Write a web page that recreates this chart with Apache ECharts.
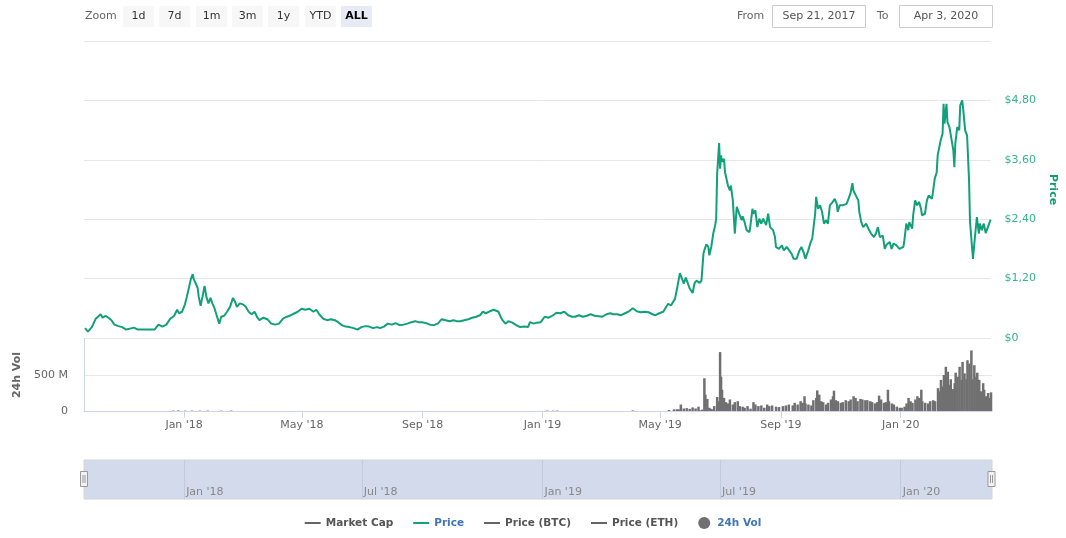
<!DOCTYPE html>
<html><head><meta charset="utf-8">
<script src="https://cdn.jsdelivr.net/npm/echarts@6/dist/echarts.min.js"></script>
<style>html,body{margin:0;padding:0;background:#fff}#c{width:1066px;height:538px}</style>
</head><body><div id="c"></div>
<script>
// ---- data ----
const startDate = '2017-09-21';
const endDate = '2020-04-03';
// days since startDate
const priceDays = [1,4,8,12,14,17,19,22,25,28,31,35,39,43,47,51,55,60,66,72,76,80,84,88,92,95,97,100,103,105,107,109,111,112,114,116,117,119,121,123,125,127,129,131,133,135,137,138,140,143,146,149,152,154,156,159,162,165,168,171,174,177,179,183,187,191,195,199,203,207,211,215,218,222,226,230,234,237,240,244,248,252,256,260,263,267,271,275,279,283,287,291,295,299,302,306,310,314,318,322,326,330,334,338,341,345,349,353,357,361,365,369,373,377,380,384,388,392,396,400,404,407,410,414,418,420,423,425,427,430,433,437,441,445,449,453,455,459,462,466,470,474,478,482,486,490,494,498,501,505,509,513,517,521,525,529,533,537,540,544,548,552,556,560,564,568,572,576,580,583,587,591,
593,596,599,603,605,608,609,612,614,616,618,620,621,623,625,628,630,632,633,635,637,638,640,642,644,645,646,648,649,650,651,653,654,655,657,659,660,662,664,666,667,669,671,672,674,676,679,680,682,683,685,687,689,691,693,696,698,700,703,705,706,709,712,714,717,719,722,724,727,730,732,734,736,739,741,743,746,747,749,751,753,755,757,759,761,764,766,768,769,771,774,778,780,782,784,785,787,790,791,793,795,798,801,803,806,808,810,812,815,817,819,822,824,826,829,832,836,837,839,841,842,845,846,848,850,852,854,855,858,860,862,865,866,868,870,871,872,874,876,877,878,880,881,883,885,887,888,889,891,893,894,896,897,899,901,903,904,905,907,909,910,911,913,914,916,918,920,922,925];
const prices = [.20,.13,.22,.39,.43,.48,.41,.45,.41,.36,.27,.24,.22,.17,.19,.21,.17,.17,.17,.17,.27,.23,.27,.39,.45,.57,.50,.53,.68,.84,1.01,1.19,1.29,1.19,1.22,1.01,.84,.65,.84,1.05,.82,.70,.81,.70,.61,.48,.50,.29,.43,.45,.53,.63,.81,.74,.63,.70,.68,.63,.53,.48,.53,.41,.36,.41,.38,.29,.27,.29,.39,.43,.46,.50,.53,.59,.57,.59,.53,.57,.48,.39,.36,.38,.36,.31,.26,.23,.22,.20,.17,.22,.24,.23,.20,.22,.20,.23,.29,.27,.30,.26,.27,.29,.32,.34,.32,.32,.30,.27,.26,.29,.38,.36,.34,.36,.34,.34,.36,.38,.41,.43,.46,.53,.50,.54,.57,.61,.53,.43,.36,.29,.34,.31,.26,.22,.23,.22,.32,.29,.31,.32,.43,.41,.45,.51,.50,.53,.46,.43,.43,.46,.43,.45,.48,.45,.44,.43,.48,.50,.48,.48,.46,.50,.54,.60,.54,.52,.53,.52,.48,.46,.50,.53,
.56,.69,.66,.79,.99,1.31,1.27,1.10,1.22,1.20,1.00,.98,.91,1.11,1.16,1.11,1.16,1.70,1.78,1.89,1.84,1.67,1.84,2.11,2.28,2.41,3.32,3.94,3.42,3.69,3.56,3.62,3.35,3.39,3.08,2.98,3.08,2.78,2.11,2.65,2.61,2.48,2.38,2.46,2.34,2.18,2.14,2.28,2.61,2.51,2.58,2.24,2.41,2.31,2.41,2.28,2.51,2.24,2.18,2.04,1.84,1.80,1.87,1.77,1.84,1.80,1.70,1.60,1.60,1.77,1.84,1.74,1.60,1.77,1.91,2.01,2.51,2.85,2.61,2.68,2.55,2.31,2.38,2.31,2.68,2.75,2.81,2.71,2.55,2.68,2.68,2.71,2.81,2.92,3.13,2.98,2.95,2.78,2.55,2.34,2.24,2.31,2.18,2.11,2.04,2.11,2.24,2.04,2.07,1.80,1.89,1.94,1.80,1.91,1.87,1.80,1.84,1.97,2.31,2.18,2.34,2.21,2.48,2.78,2.68,2.75,2.61,2.48,2.51,2.78,2.88,2.81,2.92,3.22,3.35,3.69,3.66,3.99,4.13,4.73,4.33,4.73,4.36,4.26,4.23,3.79,3.45,3.93,4.26,4.20,4.70,4.80,4.63,4.20,4.09,3.19,2.34,2.31,1.60,2.04,2.07,2.44,2.11,2.31,2.18,2.31,2.12,2.14,2.39];
const volDays = [91,96,103,110,118,126,140,150,472,478,482,559,596,601,604,606,608,611,614,617,620,623,626,628,630,632,633,635,637,638,640,642,645,646,648,649,650,652,654,656,658,661,663,666,668,671,673,676,679,682,684,687,690,693,696,698,701,705,708,712,715,718,722,724,727,730,732,734,735,738,741,743,746,747,749,751,753,756,758,761,763,764,766,768,771,773,776,779,781,784,786,788,791,793,796,798,801,803,806,808,810,812,815,817,819,820,823,825,828,831,833,836,838,840,842,844,847,849,851,853,854,857,860,862,865,867,870,871,873,875,876,878,880,882,883,885,887,888,890,892,894,895,897,899,900,902,904,905,907,909,910,912,914,916,917,919,921,922,924];
const volumesM = [6,8,5,6,5,6,5,6,6,5,6,8,14,23,25,22,90,35,40,30,50,35,60,10,20,455,227,168,45,32,25,68,195,136,818,477,295,182,123,105,160,90,123,136,68,60,45,68,32,123,90,68,77,45,90,68,77,60,55,68,77,90,77,114,90,136,114,205,105,90,77,150,182,286,227,136,123,90,114,160,205,282,150,136,114,123,150,136,160,205,182,136,168,160,150,150,136,123,105,123,214,160,114,123,295,136,105,90,60,45,45,60,105,182,136,114,160,205,182,295,136,114,105,136,150,136,318,273,432,341,500,614,545,364,441,305,386,532,477,614,432,682,523,441,705,659,841,441,636,477,532,432,273,386,295,205,250,182,259];
const axisTickDates = ['2018-01-01','2018-05-01','2018-09-01','2019-01-01','2019-05-01','2019-09-01','2020-01-01'];
const navTickDates = ['2018-01-01','2018-07-01','2019-01-01','2019-07-01','2020-01-01'];
const zoomButtons = ['1d','7d','1m','3m','1y','YTD','ALL'];
const fromLabel = 'Sep 21, 2017';
const toLabel = 'Apr 3, 2020';
const legendNames = ['Market Cap','Price','Price (BTC)','Price (ETH)','24h Vol'];

// ---- build ----
const DAY = 86400000;
const t0 = new Date(startDate).getTime();
const t1 = new Date(endDate).getTime();
const priceData = priceDays.map((d,i)=>[t0 + d*DAY, prices[i]]);
const volData = volDays.map((d,i)=>[t0 + d*DAY, volumesM[i]]);
const tickVals = axisTickDates.map(s=>new Date(s).getTime());
const navVals = navTickDates.map(s=>new Date(s).getTime());
const MONTHS = ['Jan','Feb','Mar','Apr','May','Jun','Jul','Aug','Sep','Oct','Nov','Dec'];
const fmtDate = v => { const d = new Date(v); return MONTHS[d.getUTCMonth()] + " '" + String(d.getUTCFullYear()).slice(2); };
const FONT = 'DejaVu Sans';
const GREEN = '#12a079';
const BLUE = '#3e74b8';
const linePath = 'path://M0,0 L16,0 L16,2 L0,2 Z';

const graphics = [];
graphics.push({type:'text', x:85, y:16.5, style:{text:'Zoom', fill:'#666', font:'11px "DejaVu Sans"', verticalAlign:'middle'}});
zoomButtons.forEach((b,i)=>{
  const x = Math.round(123 + i*36.3);
  const sel = b === 'ALL';
  graphics.push({type:'rect', shape:{x:x, y:6, width:31, height:21}, style:{fill: sel ? '#e6ebf5' : '#f7f7f7'}});
  graphics.push({type:'text', x:x+15.5, y:16.5, style:{text:b, fill: sel ? '#000' : '#333', font:(sel?'bold ':'')+'11px "DejaVu Sans"', align:'center', verticalAlign:'middle'}});
});
graphics.push({type:'text', x:737, y:16.5, style:{text:'From', fill:'#666', font:'11px "DejaVu Sans"', verticalAlign:'middle'}});
graphics.push({type:'rect', shape:{x:772.5, y:5.5, width:93, height:22}, style:{fill:'#fff', stroke:'#cccccc', lineWidth:1}});
graphics.push({type:'text', x:819, y:16.5, style:{text:fromLabel, fill:'#555', font:'11px "DejaVu Sans"', align:'center', verticalAlign:'middle'}});
graphics.push({type:'text', x:877, y:16.5, style:{text:'To', fill:'#666', font:'11px "DejaVu Sans"', verticalAlign:'middle'}});
graphics.push({type:'rect', shape:{x:899.5, y:5.5, width:93, height:22}, style:{fill:'#fff', stroke:'#cccccc', lineWidth:1}});
graphics.push({type:'text', x:946, y:16.5, style:{text:toLabel, fill:'#555', font:'11px "DejaVu Sans"', align:'center', verticalAlign:'middle'}});
[84, 991.5].forEach(cx=>{
  graphics.push({type:'rect', z:100, shape:{x:cx-3.5, y:471.5, width:7, height:15}, style:{fill:'#f2f2f2', stroke:'#999', lineWidth:1}});
  graphics.push({type:'line', z:101, shape:{x1:cx-1, y1:475, x2:cx-1, y2:483}, style:{stroke:'#999', lineWidth:1}});
  graphics.push({type:'line', z:101, shape:{x1:cx+1, y1:475, x2:cx+1, y2:483}, style:{stroke:'#999', lineWidth:1}});
});

const legendData = legendNames.map(n=>{
  const blue = (n==='Price' || n==='24h Vol');
  return {name:n, icon: n==='24h Vol' ? 'circle' : linePath, textStyle:{color: blue ? BLUE : '#555'}};
});

const chart = echarts.init(document.getElementById('c'), null, {renderer:'canvas'});
chart.setOption({
  animation:false,
  backgroundColor:'#fff',
  textStyle:{fontFamily:FONT},
  grid:[
    {left:84, right:74, top:41, height:297},
    {left:84, right:74, top:339, height:72},
    {left:84, right:74, top:460, height:39, show:true, backgroundColor:'#d2daec', borderColor:'#d4d4d4', borderWidth:1}
  ],
  xAxis:[
    {type:'value', gridIndex:0, min:t0, max:t1, show:false},
    {type:'value', gridIndex:1, min:t0, max:t1,
     axisLine:{show:true, lineStyle:{color:'#ccd6eb'}},
     axisTick:{show:true, length:7, lineStyle:{color:'#ccd6eb'}, customValues:tickVals},
     axisLabel:{customValues:tickVals, formatter:fmtDate, color:'#666', fontSize:11, fontFamily:FONT, margin:9},
     splitLine:{show:false}},
    {type:'value', gridIndex:2, min:t0, max:t1,
     axisLine:{show:false},
     axisTick:{show:false, customValues:navVals},
     axisLabel:{customValues:navVals, formatter:fmtDate, inside:true, align:'left', padding:[0,0,0,2], color:'#888', fontSize:11, fontFamily:FONT, margin:1},
     splitLine:{show:true, lineStyle:{color:'#c2cadf', width:1}}}
  ],
  yAxis:[
    {type:'value', gridIndex:0, position:'right', min:0, max:6, interval:1.2,
     axisLine:{show:false}, axisTick:{show:false},
     axisLabel:{showMaxLabel:false, margin:14, color:'#35b38a', fontSize:11, fontFamily:FONT,
       formatter:v=> v===0 ? '$0' : '$' + v.toFixed(2).replace('.', ',')},
     splitLine:{lineStyle:{color:'#e6e6e6'}},
     name:'Price', nameLocation:'middle', nameRotate:-90, nameGap:55,
     nameTextStyle:{color:'#0e9f6e', fontWeight:'bold', fontSize:11, fontFamily:FONT}},
    {type:'value', gridIndex:1, position:'left', min:0, max:1000, interval:500,
     axisLine:{show:true, lineStyle:{color:'#ccd6eb'}}, axisTick:{show:false},
     axisLabel:{showMaxLabel:false, margin:16, color:'#666', fontSize:11, fontFamily:FONT,
       formatter:v=> v===0 ? '0' : v + ' M'},
     splitLine:{showMaxLine:false, lineStyle:{color:'#e6e6e6'}},
     name:'24h Vol', nameLocation:'middle', nameRotate:90, nameGap:58,
     nameTextStyle:{color:'#666', fontWeight:'bold', fontSize:11, fontFamily:FONT}},
    {type:'value', gridIndex:2, min:0, max:1, show:false}
  ],
  legend:{
    data:legendData, left:'center', top:512, itemWidth:16, itemHeight:12, itemGap:20,
    textStyle:{fontWeight:'bold', fontSize:10.5, fontFamily:FONT}, selectedMode:false
  },
  graphic:graphics,
  series:[
    {name:'Market Cap', type:'line', data:[], color:'#666', xAxisIndex:0, yAxisIndex:0},
    {name:'Price', type:'line', data:priceData, color:GREEN, showSymbol:false, xAxisIndex:0, yAxisIndex:0,
     lineStyle:{width:2, color:GREEN}},
    {name:'Price (BTC)', type:'line', data:[], color:'#666', xAxisIndex:0, yAxisIndex:0},
    {name:'Price (ETH)', type:'line', data:[], color:'#666', xAxisIndex:0, yAxisIndex:0},
    {name:'24h Vol', type:'bar', data:volData, color:'#707070', xAxisIndex:1, yAxisIndex:1, barWidth:2.5,
     itemStyle:{color:'#707070'}}
  ]
});
</script></body></html>
